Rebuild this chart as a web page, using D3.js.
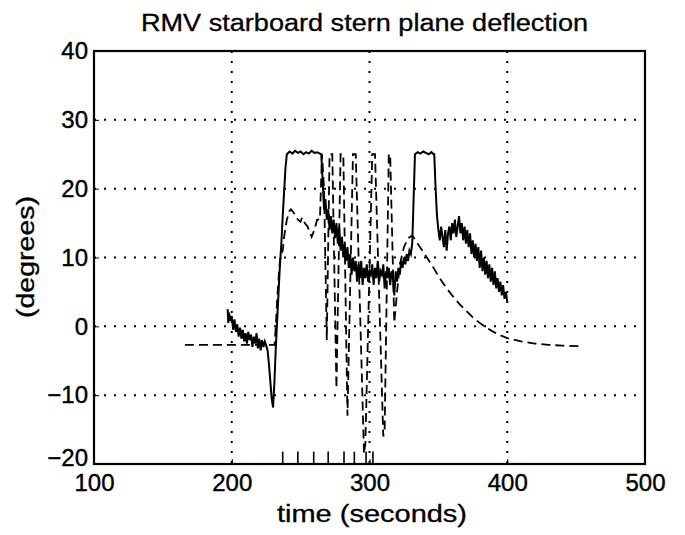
<!DOCTYPE html>
<html><head><meta charset="utf-8">
<script src="https://cdn.jsdelivr.net/npm/d3@7"></script>
<style>body{margin:0;background:#fff}svg{display:block}text{font-family:"Liberation Sans",Arial,sans-serif;fill:#000}</style>
</head><body><svg id="c" width="685" height="535"></svg>
<script>
const xTicks = [100,200,300,400,500];
const yTicks = [-20,-10,0,10,20,30,40];
const xGrid = [200,300,400];
const yGrid = [-10,0,10,20,30];
const title = "RMV starboard stern plane deflection";
const xLabel = "time (seconds)";
const yLabel = "(degrees)";

// solid: measured deflection
const solidT = [197,197.5,198,199,200,201,202,203,204,205,206,207,208,209,210,211,212,213,214,215,216,217,218,219,220,221,222,223,224,225,226,227,228,229,230,231,232,233,234,235,236,237,238,239,240,242,244,246,248,250,252,254,256,258,260,262,264,265,266,267,268,269,270,271,272,273,274,275,276,277,278,279,280,281,282,283,284,285,286,287,288,289,290,291,292,293,294,295,296,297,298,299,300,301,302,303,304,305,306,307,308,309,310,311,312,313,314,315,316,317,318,319,320,321,322,323,324,325,326,327,328,329,330,331,331.5,333,335,337,339,341,343,345,346,347,348,349,350,351,352,353,354,355,356,357,358,359,360,361,362,363,364,365,366,367,368,369,370,371,372,373,374,375,376,377,378,379,380,381,382,383,384,385,386,387,388,389,390,391,392,393,394,395,396,397,398,399,400];
const solidV = [2.5,0.5,2.0,0.8,1.5,-0.5,1.0,-0.8,0.3,-1.5,-0.2,-1.8,-0.5,-2.2,-1.0,-2.5,-0.8,-2.0,-1.2,-3.0,-1.5,-2.5,-1.0,-3.2,-1.8,-3.5,-2.0,-3.0,-2.2,-2.8,-3.5,-5.5,-8.0,-10.5,-11.8,-8.0,-3.0,1.0,5.0,9.0,12,16,19.5,23,25,25.4,25.1,25.5,25.2,25.4,25.0,25.3,25.1,25.5,25.2,25.3,25.1,25.0,21,17,18.5,15.5,17,14,16,13.5,15.5,12.8,15,12,14.5,11,13,10,12,9.5,11.5,8.5,10.5,7.5,10,8,9.5,6.5,9,7,9.5,6,8.5,7,9,6.5,8,7.5,9,6,8.5,7,9.5,6.5,8,7.5,9,5.5,8,7,8.5,6,8,7,4.5,8,6.5,8.5,7.5,9.5,8.5,10,9,10.5,9.5,11,10.5,12,15,25,25.3,25.1,25.4,25.2,25.0,25.3,25.1,25,20,16,14,12.5,14.5,13,11.5,14,11,13.5,14.5,12.5,15,13.5,15.5,13,14.5,16,13.5,15,12.5,14.5,12,14,11.5,13.5,10.5,12.5,10,12,9.5,11.5,8.5,11,8,10,7.5,9.5,7,9,6.5,8.5,6,8,5.5,7,5,6.5,4.5,6,4,5,3.5,4];

// dashed: commanded deflection
const dashT = [166,180,200,215,231,232,233,234,235,236,237,238,240,242,243,245,248,250,251,253,255,257,258,260,262,264,265.5,267,269,271,273,276,279,281,284,288,290,296,297,302,304,310,311,314,315,318,320,322,325,328,331,335,340,345,350,355,360,365,370,375,380,385,390,395,400,410,420,430,440,455];
const dashV = [-2.7,-2.7,-2.7,-2.7,-2.7,0,4,7,9.5,10.5,11,13,15.5,16.8,17,16.5,15.5,15.2,15.8,15,14.5,13.5,13,14,15.5,15.5,25,20,-2,25,25,-9,25,25,-13,25,25,-18.5,-17,25,25,-16,-15,25,25,0.5,5,9,11.5,12.8,13.2,12,10.5,9,7.3,5.8,4.5,3.3,2.3,1.3,0.5,-0.2,-0.8,-1.3,-1.7,-2.2,-2.5,-2.7,-2.8,-2.9];

// event markers along the bottom axis
const markT = [237,248,259.5,270,281.5,289,297.5,302.5];

const svg = d3.select("#c");
const L=94,R=645,T=51,B=464;
const x = d3.scaleLinear().domain([100,500]).range([L,R]);
const y = d3.scaleLinear().domain([-20,40]).range([B,T]);

// grid
const g = svg.append("g");
g.selectAll(".gx").data(xGrid).join("line")
 .attr("x1",d=>x(d)).attr("x2",d=>x(d)).attr("y1",T).attr("y2",B)
 .attr("stroke","#000").attr("stroke-width",2).attr("stroke-dasharray","2,8");
g.selectAll(".gy").data(yGrid).join("line")
 .attr("x1",L).attr("x2",R).attr("y1",d=>y(d)).attr("y2",d=>y(d))
 .attr("stroke","#000").attr("stroke-width",2).attr("stroke-dasharray","2,8");

// lines
const line = d3.line().x(d=>x(d[0])).y(d=>y(d[1]));
svg.append("path").datum(dashT.map((t,i)=>[t,dashV[i]]))
 .attr("d",line).attr("fill","none").attr("stroke","#000").attr("stroke-width",1.8)
 .attr("stroke-dasharray","9,5");
svg.append("path").datum(solidT.map((t,i)=>[t,solidV[i]]))
 .attr("d",line).attr("fill","none").attr("stroke","#000").attr("stroke-width",2);

// markers
svg.selectAll(".mk").data(markT).join("line")
 .attr("x1",d=>x(d)).attr("x2",d=>x(d)).attr("y1",B).attr("y2",y(-18.2))
 .attr("stroke","#000").attr("stroke-width",1.6);

// frame
svg.append("rect").attr("x",L).attr("y",T).attr("width",R-L).attr("height",B-T)
 .attr("fill","none").attr("stroke","#000").attr("stroke-width",2.2);

// axes (ticks inward)
const ax = svg.append("g").attr("transform",`translate(0,${B})`)
 .call(d3.axisBottom(x).tickValues(xTicks).tickSize(-5).tickPadding(7).tickFormat(d3.format("d")));
ax.select(".domain").remove();
ax.selectAll("text").attr("font-size",24).attr("font-family","Liberation Sans, Arial, sans-serif")
 .attr("dy","0.85em").attr("stroke","#000").attr("stroke-width",0.4);
const ay = svg.append("g").attr("transform",`translate(${L},0)`)
 .call(d3.axisLeft(y).tickValues(yTicks).tickSize(-5).tickPadding(6).tickFormat(d3.format("d")));
ay.select(".domain").remove();
ay.selectAll("text").attr("font-size",24).attr("font-family","Liberation Sans, Arial, sans-serif")
 .attr("stroke","#000").attr("stroke-width",0.4)
 .attr("dy",d=>d===-20?"0.05em":"0.32em");

// titles
svg.append("text").attr("x",141).attr("y",31).attr("font-size",23)
 .attr("stroke","#000").attr("stroke-width",0.3)
 .attr("textLength",447).attr("lengthAdjust","spacingAndGlyphs").text(title);
svg.append("text").attr("x",277).attr("y",522).attr("font-size",23)
 .attr("stroke","#000").attr("stroke-width",0.3)
 .attr("textLength",190).attr("lengthAdjust","spacingAndGlyphs").text(xLabel);
svg.append("text").attr("transform","translate(34,318) rotate(-90)").attr("font-size",23)
 .attr("stroke","#000").attr("stroke-width",0.3)
 .attr("textLength",122).attr("lengthAdjust","spacingAndGlyphs").text(yLabel);
</script></body></html>
